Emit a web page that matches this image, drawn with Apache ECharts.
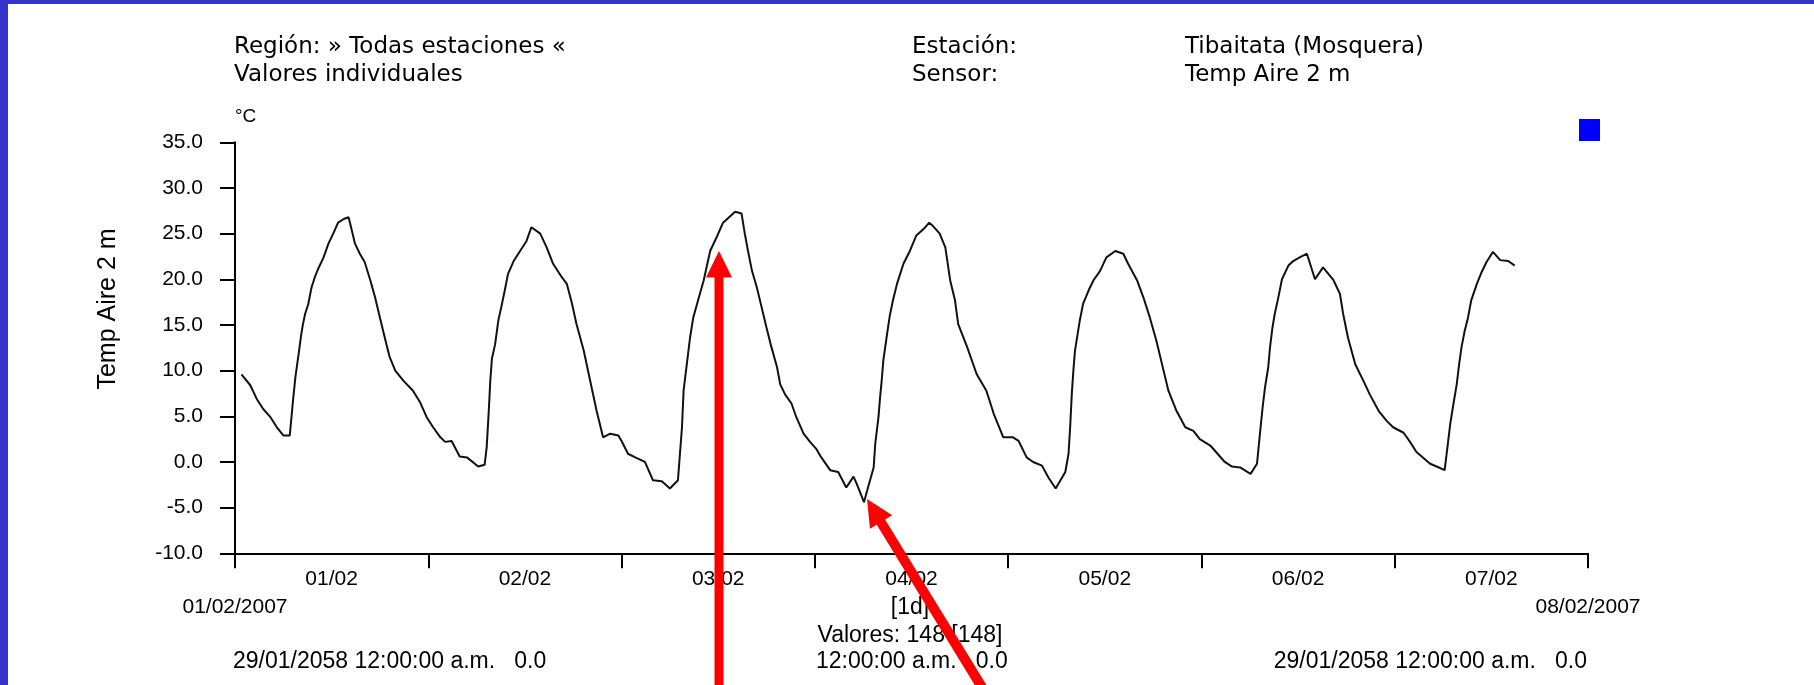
<!DOCTYPE html>
<html>
<head>
<meta charset="utf-8">
<script src="https://cdn.jsdelivr.net/npm/echarts@6/dist/echarts.min.js"></script>
<style>
html,body{margin:0;padding:0;background:#fff;}
#chart{width:1814px;height:685px;}
</style>
</head>
<body>
<div id="chart"></div>
<script>
// ---- data ----
const dayLabels = ['01/02','02/02','03/02','04/02','05/02','06/02','07/02'];
const rangeLabels = ['01/02/2007','08/02/2007'];
const yTicks = [-10, -5, 0, 5, 10, 15, 20, 25, 30, 35];
// hours since 01/02/2007 00:00
const hours = [
 0.8,1.9,2.7,3.5,4.4,5.2,6.0,6.8,7.2,7.5,7.9,8.2,8.4,8.7,9.1,9.5,9.9,10.3,11.0,11.6,
 12.2,12.8,13.5,14.1,14.3,14.9,15.5,16.1,16.8,17.4,18.0,18.6,19.2,19.9,20.9,22.1,23.0,23.8,24.6,25.5,
 26.1,26.9,27.9,28.8,30.2,31.0,31.25,31.5,31.7,31.9,32.3,32.7,33.1,33.5,33.9,34.6,35.4,36.2,36.8,37.9,
 38.7,39.5,40.6,41.2,41.8,42.4,43.3,44.1,44.9,45.7,46.6,47.6,48.0,48.8,49.7,50.9,51.9,53.0,54.0,55.0,
 55.5,55.7,56.1,56.5,56.9,57.5,58.2,59.0,59.8,60.6,
 62.1,62.9,63.3,63.7,64.2,64.8,65.4,66.0,66.6,67.3,
 67.7,68.3,69.1,69.7,70.6,71.4,72.2,72.8,73.9,74.9,
 75.9,76.8,77.2,78.1,78.6,79.3,79.5,79.9,80.1,80.3,
 80.5,80.9,81.3,81.7,82.2,83.0,83.8,84.6,85.5,86.2,
 86.7,87.5,88.2,88.8,89.4,89.8,90.9,92.1,93.3,94.2,
 95.4,96.6,97.3,98.3,99.1,100.2,101.0,101.9,103.1,103.5,
 103.7,103.9,104.1,104.3,104.7,104.9,105.3,106.0,106.6,107.4,
 108.2,109.3,110.3,110.9,112.0,112.8,113.6,114.4,115.3,115.9,
 116.9,118.0,119.0,119.8,121.1,
 122.9,123.8,124.8,126.1,126.9,127.3,127.6,127.9,128.3,128.5,
 128.8,129.1,129.5,130.0,130.8,131.4,132.2,133.1,134.1,135.1,
 136.4,137.2,137.6,138.2,139.1,140.1,140.9,142.0,143.0,143.8,
 145.1,145.9,146.7,148.4,149.2,150.2,150.6,150.9,151.3,151.7,
 152.0,152.3,152.7,153.1,153.5,154.2,154.8,155.4,156.2,157.1,
 158.1,158.9
];
const temps = [
 9.6,8.4,6.9,5.8,4.9,3.8,2.9,2.9,6.7,9.3,11.8,13.8,14.9,16.2,17.3,19.1,20.2,21.1,22.4,23.9,
 25.0,26.2,26.6,26.8,26.1,23.9,22.8,21.9,19.9,18.0,15.8,13.6,11.5,10.0,8.9,7.8,6.5,4.9,3.8,2.7,
 2.2,2.3,0.6,0.5,-0.5,-0.3,1.6,5.4,8.9,11.3,12.9,15.5,17.1,18.8,20.6,22.0,23.1,24.2,25.7,25.0,
 23.5,21.7,20.2,19.5,17.5,15.1,12.2,8.9,5.6,2.7,3.1,2.9,2.3,0.9,0.5,0.0,-2.0,-2.1,-2.9,-2.0,
 3.8,7.8,10.7,13.6,15.8,17.7,19.9,23.1,24.6,26.2,
 27.4,27.2,25.0,23.1,20.9,19.1,16.9,14.7,12.6,10.4,
 8.5,7.4,6.4,4.9,3.1,2.2,1.4,0.5,-0.9,-1.1,
 -2.8,-1.6,-2.4,-4.4,-2.8,-0.6,2.0,4.9,7.1,8.9,
 11.1,13.6,16.0,17.7,19.5,21.7,23.1,24.8,25.5,26.2,
 25.8,25.0,23.5,19.9,17.7,15.1,12.6,9.6,7.8,5.3,
 2.7,2.7,2.3,0.5,0.0,-0.4,-1.7,-2.9,-1.1,0.9,
 3.8,7.4,10.0,12.2,14.4,15.5,17.3,18.8,19.9,20.9,
 22.4,23.1,22.8,21.7,19.9,18.0,15.8,13.3,10.0,7.8,
 5.6,3.8,3.4,2.5,1.8,
 0.0,-0.5,-0.6,-1.3,-0.2,3.4,6.0,8.2,10.4,12.4,
 14.6,16.2,17.8,20.0,21.5,22.0,22.4,22.8,20.0,21.3,
 19.9,18.4,16.2,13.6,10.7,8.9,7.4,5.6,4.5,3.8,
 3.2,2.2,1.1,-0.2,-0.5,-0.9,2.0,4.2,6.4,8.5,
 10.7,12.6,14.4,15.8,17.7,19.5,20.8,21.9,23.0,22.1,
 22.0,21.5
];
const headerLeft = ['Región: » Todas estaciones «', 'Valores individuales'];
const headerMidLabels = ['Estación:', 'Sensor:'];
const headerMidValues = ['Tibaitata (Mosquera)', 'Temp Aire 2 m'];
const footerTexts = ['29/01/2058 12:00:00 a.m.   0.0', '12:00:00 a.m.   0.0', '29/01/2058 12:00:00 a.m.   0.0'];
const intervalText = '[1d]';
const countText = 'Valores: 148 [148]';
const unitText = '°C';
const seriesName = 'Temp Aire 2 m';

const seriesData = hours.map((h, i) => [h, temps[i]]);

const HDR = '23px "DejaVu Sans"';
const FTR = '23px "Liberation Sans"';
const tickFont = {fontFamily: 'Liberation Sans', fontSize: 21, color: '#000'};

function txt(text, x, y, font, align, extra) {
  return Object.assign({type: 'text', z: 50, style: {text: text, x: x, y: y, font: font, fill: '#000', align: align || 'left', verticalAlign: 'middle'}}, extra || {});
}

const chart = echarts.init(document.getElementById('chart'), null, {renderer: 'canvas'});
chart.setOption({
  backgroundColor: '#ffffff',
  animation: false,
  grid: {left: 235, right: 226, top: 142.3, bottom: 131.7, containLabel: false},
  xAxis: [
    {
      type: 'category', data: dayLabels, boundaryGap: true, position: 'bottom',
      axisLine: {show: true, onZero: false, lineStyle: {color: '#000', width: 2}},
      axisTick: {show: true, inside: false, length: 15, lineStyle: {color: '#000', width: 2}},
      axisLabel: Object.assign({margin: 15}, tickFont),
      splitLine: {show: false}
    },
    {
      type: 'value', min: 0, max: 168, interval: 168, position: 'bottom',
      axisLine: {show: false, onZero: false}, axisTick: {show: false}, splitLine: {show: false},
      axisLabel: Object.assign({margin: 43, showMinLabel: true, showMaxLabel: true,
        formatter: v => (v === 0 ? rangeLabels[0] : rangeLabels[1])}, tickFont)
    }
  ],
  yAxis: {
    type: 'value', min: yTicks[0], max: yTicks[yTicks.length - 1], interval: 5,
    axisLine: {show: true, onZero: false, lineStyle: {color: '#000', width: 2}},
    axisTick: {show: true, inside: false, length: 15, lineStyle: {color: '#000', width: 2}},
    axisLabel: Object.assign({margin: 32, formatter: v => v.toFixed(1)}, tickFont),
    splitLine: {show: false}
  },
  series: [{
    name: seriesName, type: 'line', xAxisIndex: 1, data: seriesData,
    showSymbol: false, symbol: 'none',
    lineStyle: {color: '#111111', width: 2}
  }],
  graphic: [
    {type: 'rect', z: 40, shape: {x: 0, y: 0, width: 1814, height: 4}, style: {fill: '#3434cc'}},
    {type: 'rect', z: 40, shape: {x: 0, y: 0, width: 8, height: 685}, style: {fill: '#3434cc'}},
    txt(headerLeft[0], 234, 47, HDR),
    txt(headerLeft[1], 234, 75, HDR),
    txt(headerMidLabels[0], 912, 47, HDR),
    txt(headerMidLabels[1], 912, 75, HDR),
    txt(headerMidValues[0], 1185, 47, HDR),
    txt(headerMidValues[1], 1185, 75, HDR),
    txt(unitText, 235, 117, '19px "Liberation Sans"'),
    {type: 'text', z: 50, x: 108, y: 309, rotation: Math.PI / 2,
      style: {text: seriesName, x: 0, y: 0, font: '25px "Liberation Sans"', fill: '#000', align: 'center', verticalAlign: 'middle'}},
    {type: 'rect', z: 50, shape: {x: 1579, y: 119, width: 21, height: 22}, style: {fill: '#0000ff'}},
    txt(intervalText, 910, 608, FTR, 'center'),
    txt(countText, 910, 636, FTR, 'center'),
    txt(footerTexts[0], 233, 662, FTR, 'left'),
    txt(footerTexts[1], 816, 662, FTR, 'left'),
    txt(footerTexts[2], 1587, 662, FTR, 'right'),
    // red annotation arrows
    {type: 'rect', z: 100, shape: {x: 714.5, y: 276, width: 9, height: 420}, style: {fill: '#ff0000'}},
    {type: 'polygon', z: 100, shape: {points: [[719, 251], [706, 277.5], [732, 277.5]]}, style: {fill: '#ff0000'}},
    {type: 'line', z: 100, shape: {x1: 879, y1: 519, x2: 991, y2: 702}, style: {stroke: '#ff0000', lineWidth: 10}},
    {type: 'polygon', z: 100, shape: {points: [[867, 499], [892.2, 515.2], [870.0, 528.8]]}, style: {fill: '#ff0000'}}
  ]
});
</script>
</body>
</html>
